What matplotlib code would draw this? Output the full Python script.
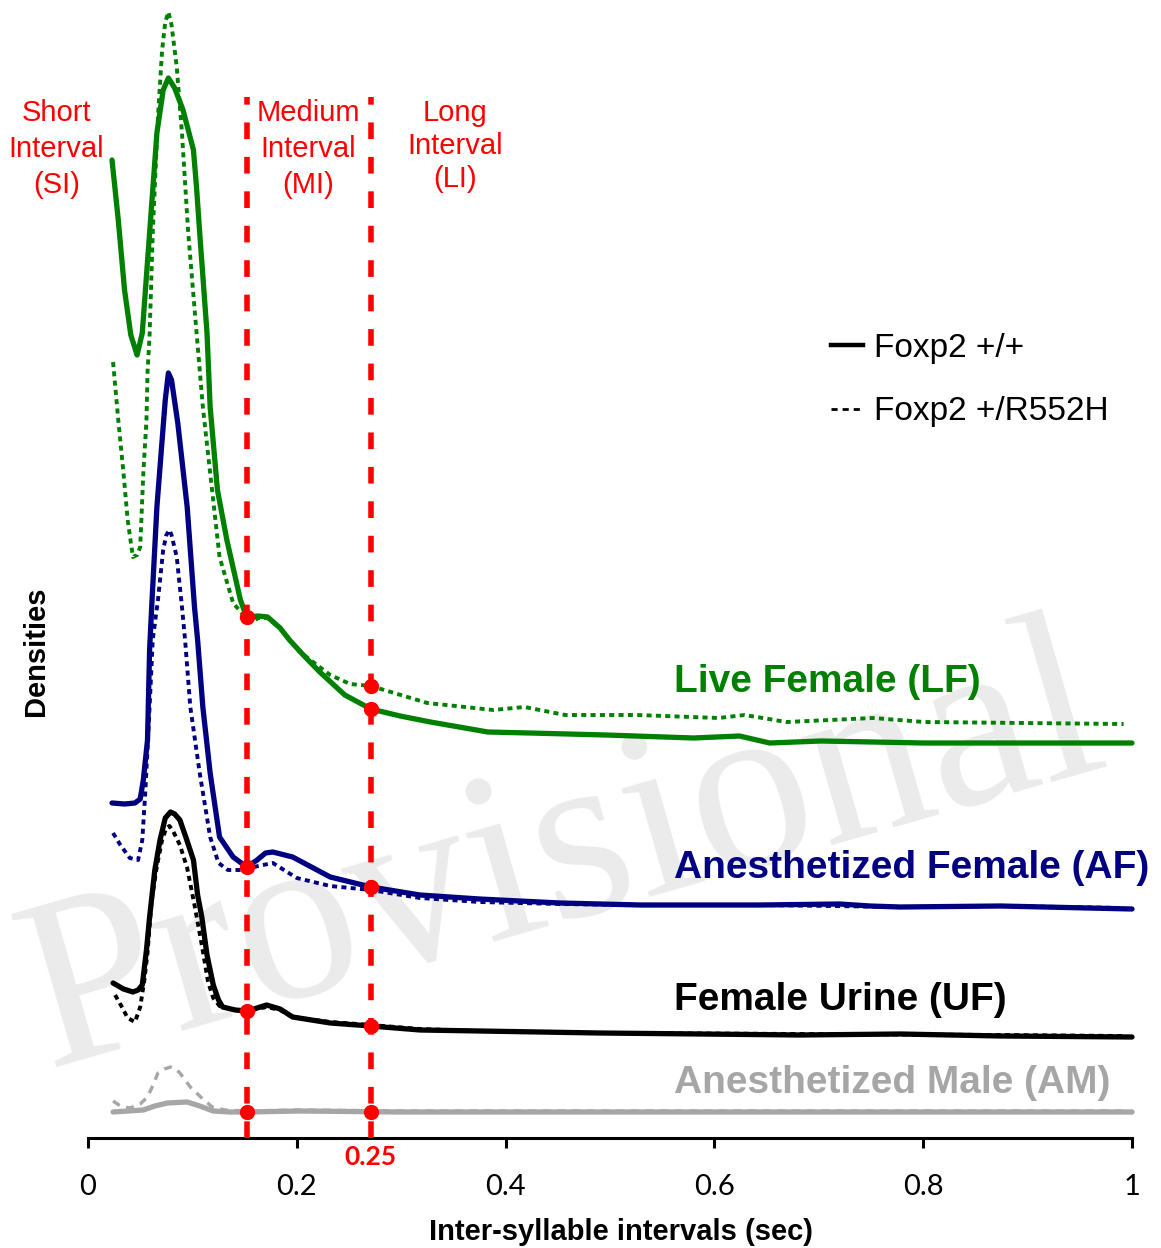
import numpy as np
import matplotlib.pyplot as plt
from matplotlib.lines import Line2D

# stacked density curves (arbitrary units, already offset per condition)
# Live Female
lf_wt_x = [0.023, 0.029, 0.035, 0.041, 0.047, 0.052, 0.059, 0.066, 0.072, 0.077, 0.083, 0.091, 0.101, 0.104,
           0.107, 0.114, 0.117, 0.124, 0.133, 0.146, 0.152, 0.163, 0.172, 0.184, 0.193, 0.208, 0.222, 0.246,
           0.271, 0.299, 0.328, 0.383, 0.423, 0.496, 0.580, 0.624, 0.653, 0.702, 0.801, 1.0]
lf_wt_y = [9.78, 9.18, 8.48, 8.03, 7.83, 8.05, 9.05, 10.05, 10.48, 10.60, 10.50, 10.28, 9.88, 9.50,
           9.05, 8.05, 7.31, 6.48, 5.98, 5.38, 5.21, 5.22, 5.21, 5.10, 4.98, 4.81, 4.66, 4.43,
           4.29, 4.22, 4.16, 4.06, 4.05, 4.03, 4.00, 4.02, 3.95, 3.97, 3.95, 3.95]
lf_mut_x = [0.024, 0.029, 0.034, 0.038, 0.043, 0.047, 0.050, 0.053, 0.056, 0.057, 0.059, 0.062, 0.067, 0.071,
            0.074, 0.077, 0.080, 0.085, 0.090, 0.096, 0.104, 0.110, 0.117, 0.126, 0.139, 0.148, 0.152, 0.158,
            0.163, 0.172, 0.184, 0.203, 0.232, 0.251, 0.271, 0.325, 0.388, 0.418, 0.457, 0.526, 0.604, 0.629,
            0.669, 0.752, 0.801, 0.992]
lf_mut_y = [7.76, 7.18, 6.65, 6.18, 5.81, 5.83, 5.91, 6.65, 7.18, 7.65, 8.03, 9.05, 10.21, 10.88,
            11.16, 11.26, 11.13, 10.71, 10.05, 9.05, 8.05, 7.31, 6.65, 5.81, 5.35, 5.24, 5.21, 5.16,
            5.20, 5.20, 5.10, 4.86, 4.63, 4.54, 4.52, 4.35, 4.28, 4.31, 4.23, 4.23, 4.20, 4.23,
            4.16, 4.20, 4.16, 4.14]

# Anesthetized Female
af_wt_x = [0.023, 0.035, 0.045, 0.050, 0.053, 0.057, 0.059, 0.061, 0.066, 0.071, 0.074, 0.077, 0.080, 0.086,
           0.095, 0.102, 0.105, 0.110, 0.117, 0.126, 0.139, 0.152, 0.162, 0.170, 0.177, 0.196, 0.232, 0.271,
           0.318, 0.375, 0.452, 0.529, 0.586, 0.644, 0.720, 0.749, 0.778, 0.874, 1.0]
af_wt_y = [3.35, 3.34, 3.35, 3.39, 3.58, 3.98, 4.88, 5.31, 6.31, 6.98, 7.38, 7.65, 7.58, 7.15,
           6.31, 5.31, 4.98, 4.31, 3.65, 3.01, 2.81, 2.71, 2.78, 2.85, 2.86, 2.81, 2.61, 2.51,
           2.43, 2.39, 2.35, 2.33, 2.33, 2.33, 2.34, 2.32, 2.31, 2.32, 2.29]
af_mut_x = [0.024, 0.031, 0.040, 0.048, 0.052, 0.055, 0.059, 0.062, 0.067, 0.072, 0.075, 0.078, 0.080, 0.085,
            0.090, 0.093, 0.098, 0.107, 0.117, 0.125, 0.134, 0.148, 0.163, 0.177, 0.200, 0.232, 0.271, 0.318,
            0.375, 0.452, 0.529, 0.644, 0.778, 0.874, 0.99]
af_mut_y = [3.05, 2.93, 2.80, 2.78, 2.98, 3.48, 4.31, 4.98, 5.38, 5.88, 6.03, 6.08, 6.03, 5.81,
            5.31, 4.98, 4.31, 3.65, 3.01, 2.75, 2.68, 2.68, 2.72, 2.75, 2.60, 2.52, 2.48, 2.40,
            2.36, 2.34, 2.33, 2.33, 2.31, 2.32, 2.30]

# Female Urine
uf_wt_x = [0.024, 0.034, 0.043, 0.048, 0.052, 0.056, 0.059, 0.064, 0.069, 0.074, 0.079, 0.083, 0.088, 0.094,
           0.101, 0.105, 0.109, 0.114, 0.120, 0.125, 0.129, 0.141, 0.152, 0.162, 0.171, 0.184, 0.196, 0.232,
           0.271, 0.318, 0.375, 0.490, 0.586, 0.682, 0.778, 0.874, 1.0]
uf_wt_y = [1.55, 1.49, 1.46, 1.48, 1.53, 1.88, 2.21, 2.68, 2.98, 3.20, 3.26, 3.24, 3.18, 3.00,
           2.78, 2.43, 2.21, 1.83, 1.53, 1.38, 1.31, 1.28, 1.27, 1.30, 1.33, 1.29, 1.21, 1.15,
           1.12, 1.08, 1.07, 1.05, 1.04, 1.03, 1.04, 1.02, 1.01]
uf_mut_x = [0.026, 0.033, 0.038, 0.045, 0.050, 0.054, 0.057, 0.061, 0.066, 0.071, 0.075, 0.078, 0.081, 0.088,
            0.095, 0.102, 0.109, 0.115, 0.120, 0.126, 0.141, 0.152, 0.162, 0.171, 0.184, 0.196, 0.232, 0.271,
            0.318, 0.375, 0.490, 0.682, 0.874, 0.992]
uf_mut_y = [1.43, 1.30, 1.20, 1.16, 1.31, 1.58, 1.85, 2.38, 2.72, 2.98, 3.10, 3.12, 3.08, 2.93,
            2.70, 2.33, 1.93, 1.56, 1.40, 1.32, 1.28, 1.27, 1.29, 1.31, 1.28, 1.21, 1.16, 1.13,
            1.09, 1.07, 1.05, 1.04, 1.03, 1.02]

# Anesthetized Male
am_wt_x = [0.024, 0.053, 0.064, 0.076, 0.095, 0.107, 0.120, 0.136, 0.152, 0.203, 0.299, 0.490, 0.682, 0.874, 1.0]
am_wt_y = [0.26, 0.28, 0.32, 0.35, 0.36, 0.32, 0.27, 0.26, 0.26, 0.27, 0.26, 0.26, 0.26, 0.26, 0.26]
am_mut_x = [0.024, 0.031, 0.040, 0.050, 0.057, 0.061, 0.067, 0.073, 0.079, 0.084, 0.088, 0.098, 0.109, 0.119,
            0.131, 0.152, 0.203, 0.299, 0.490, 0.682, 0.874, 0.992]
am_mut_y = [0.37, 0.32, 0.30, 0.34, 0.41, 0.50, 0.65, 0.69, 0.71, 0.69, 0.65, 0.51, 0.40, 0.31,
            0.28, 0.27, 0.28, 0.27, 0.27, 0.27, 0.27, 0.27]

# interval boundaries (sec)
mi_start = 0.152
li_start = 0.271

groups = [
    ('Live Female (LF)', '#008000', lf_wt_x, lf_wt_y, lf_mut_x, lf_mut_y, 4.56),
    ('Anesthetized Female (AF)', '#000080', af_wt_x, af_wt_y, af_mut_x, af_mut_y, 2.70),
    ('Female Urine (UF)', 'black', uf_wt_x, uf_wt_y, uf_mut_x, uf_mut_y, 1.38),
    ('Anesthetized Male (AM)', '#a6a6a6', am_wt_x, am_wt_y, am_mut_x, am_mut_y, 0.55),
]

fig = plt.figure(figsize=(11.61, 12.48), dpi=100)
ax = fig.add_axes([88 / 1161, 110 / 1248, 1044 / 1161, 1138 / 1248])
ax.set_xlim(0, 1)
ax.set_ylim(0, 11.38)

# watermark
ax.text(0.455, 0.245, 'Provisional', transform=ax.transAxes, fontsize=175, family='Liberation Serif',
        color='#ebebeb', rotation=16, ha='center', va='center', zorder=0)

for name, col, wx, wy, mx, my, ly in groups:
    if col == '#a6a6a6':
        ax.plot(mx, my, color=col, lw=2.4, dashes=(2.4, 2.0), clip_on=False, zorder=2)
    else:
        ax.plot(mx, my, color=col, lw=2.8, dashes=(1.3, 1.1), clip_on=False, zorder=2)
    ax.plot(wx, wy, color=col, lw=3.8, solid_capstyle='round', solid_joinstyle='round',
            clip_on=False, zorder=2)
    ax.text(0.561, ly, name, color=col, fontsize=28, fontweight='bold',
            family='Liberation Sans', ha='left', va='center')

# interval boundaries
for xb in (mi_start, li_start):
    ax.axvline(xb, ymin=0, ymax=10.41 / 11.38, color='red', lw=4, dashes=(3.0, 3.2), zorder=3)

# red dots where boundaries cross the curves
dot_curves = [(lf_wt_x, lf_wt_y), (af_wt_x, af_wt_y), (uf_wt_x, uf_wt_y), (am_wt_x, am_wt_y)]
for xb in (mi_start, li_start):
    for cx, cy in dot_curves:
        ax.plot(xb, np.interp(xb, cx, cy), 'o', color='red', ms=10, zorder=4, clip_on=False)
ax.plot(li_start, np.interp(li_start, lf_mut_x, lf_mut_y), 'o', color='red', ms=10, zorder=4)

# interval labels
lab_kw = dict(color='red', fontsize=21, family='Liberation Sans', ha='center', va='center')
ax.text(-0.030, 9.89, 'Short\nInterval\n(SI)', linespacing=1.38, **lab_kw)
ax.text(0.211, 9.89, 'Medium\nInterval\n(MI)', linespacing=1.38, **lab_kw)
ax.text(0.352, 9.92, 'Long\nInterval\n(LI)', linespacing=1.22, **lab_kw)
ax.text(li_start, -0.19, '0.25', color='red', fontsize=19, fontweight='bold', family='Lato',
        ha='center', va='center', clip_on=False)

# axes styling
for s in ('left', 'top', 'right'):
    ax.spines[s].set_visible(False)
ax.spines['bottom'].set_linewidth(2.2)
ax.set_yticks([])
ax.set_xticks([0, 0.2, 0.4, 0.6, 0.8, 1.0])
ax.set_xticklabels(['0', '0.2', '0.4', '0.6', '0.8', '1'])
ax.tick_params(axis='x', length=7, width=2.2, pad=19, labelsize=21)
for t in ax.get_xticklabels():
    t.set_family('Lato')

ax.set_xlabel('Inter-syllable intervals (sec)', fontsize=21, fontweight='bold', family='Liberation Sans')
ax.xaxis.set_label_coords(0.511, -0.070)
ax.set_ylabel('Densities', fontsize=21, fontweight='bold', family='Liberation Sans')
ax.yaxis.set_label_coords(-0.036, 0.428)

handles = [Line2D([], [], color='black', lw=3.2),
           Line2D([], [], color='black', lw=2, dashes=(2.2, 1.8))]
ax.legend(handles, ['Foxp2 +/+', 'Foxp2 +/R552H'], loc='upper left',
          bbox_to_anchor=(814 / 1161, 1 - 316 / 1248), bbox_transform=fig.transFigure,
          frameon=False, borderpad=0, handlelength=0.97, handletextpad=0.33, labelspacing=0.98,
          prop={'family': 'Liberation Sans', 'size': 24})

fig.savefig('out.png', dpi=100)
